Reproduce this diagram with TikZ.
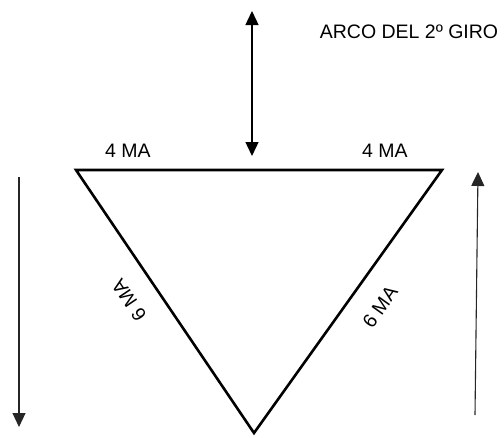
\documentclass[tikz,border=0pt]{standalone}
\usepackage{fontspec}
\setmainfont{Liberation Sans}
\usetikzlibrary{arrows.meta}

\tikzset{
	lbl/.style={inner sep=0pt, font=\fontsize{19.5}{22}\selectfont},
	tip/.style={-{Triangle[width=13pt, length=14pt]}},
}

\begin{document}
\begin{tikzpicture}[x=1pt, y=-1pt]
		\useasboundingbox (0, 0) rectangle (504, 437);

		\coordinate (tl) at (76, 170);
		\coordinate (tr) at (442, 170);
		\coordinate (bt) at (254, 433);

		% the triangle
		\draw [line width=2.6pt, line join=miter] (tl) -- (tr) -- (bt) -- cycle;

		% arc of the second turn
		\coordinate (up) at (252, 11);
		\coordinate (dn) at (252, 156);
		\draw [line width=1.4pt, {Triangle[width=13pt, length=14pt]}-{Triangle[width=13pt, length=14pt]}] (up) -- (dn);
		\node [lbl] (arco) at (409, 32) {ARCO DEL 2º GIRO};

		% side arrows
		\coordinate (ls) at (19, 177);
		\coordinate (le) at (19, 427);
		\draw [tip, line width=1.1pt, black!85] (ls) -- (le);
		\coordinate (rs) at (475, 415);
		\coordinate (re) at (478, 172);
		\draw [tip, line width=1.1pt, black!85] (rs) -- (re);

		\node [lbl] (top1) at (128, 151) {4 MA};
		\node [lbl] (top2) at (385, 151) {4 MA};
		\node [lbl, rotate=124] (side1) at (129, 300) {6 MA};
		\node [lbl, rotate=54.5] (side2) at (380, 307) {6 MA};
	\end{tikzpicture}
\end{document}
